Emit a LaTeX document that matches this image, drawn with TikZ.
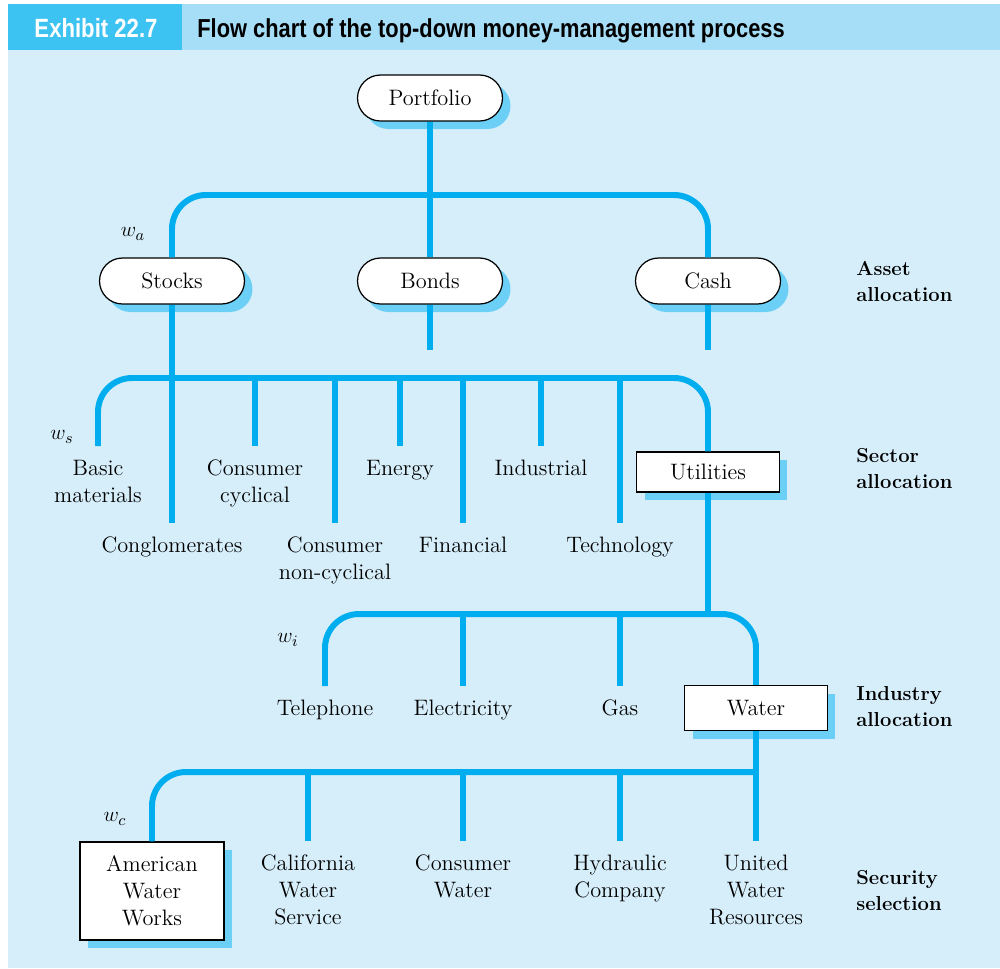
\documentclass[tikz,border=0pt]{standalone}
\usepackage{fontspec}
\usepackage{xcolor}
\usetikzlibrary{shadows,positioning}
\newfontfamily\headfont[FakeStretch=0.84]{Liberation Sans}
\newcommand\bodysize{\fontsize{12.7}{15.3}\selectfont}
\newcommand\sidesize{\fontsize{11.5}{14.8}\selectfont}
\definecolor{LBlue}{HTML}{00AEEF}
\definecolor{LShade}{HTML}{6CCFF6}
\definecolor{LBack}{HTML}{D6EEFA}
\definecolor{LHead}{HTML}{A6DEF7}
\definecolor{LTag}{HTML}{3DC3F1}

\begin{document}
\begin{tikzpicture}[
  x=0.02cm,y=-0.02cm,
  bar/.style={draw=LBlue,line width=3.4pt,rounded corners=0.68cm},
  shade/.style={drop shadow={shadow xshift=0.16cm,shadow yshift=-0.16cm,
    opacity=1,fill=LShade}},
  pill/.style={shade,draw=black,line width=0.7pt,fill=white,rounded corners=0.46cm,
    minimum width=2.9cm,minimum height=0.92cm,font=\bodysize},
  box/.style={shade,draw=black,line width=0.7pt,fill=white,
    minimum width=2.86cm,align=center,font=\bodysize},
  lbl/.style={align=center,anchor=north,inner sep=0pt,outer sep=6pt,font=\bodysize},
  wt/.style={font=\bodysize,inner sep=0pt},
  side/.style={align=left,anchor=west,inner sep=0pt,font=\sidesize\bfseries},
  head/.style={font=\headfont\fontsize{15}{18}\selectfont\bfseries,inner sep=0pt}
]
  \useasboundingbox (0,0) rectangle (1000,968);
  \fill[white] (0,0) rectangle (1000,968);
  \fill[LBack] (8,50) rectangle (1000,968);
  \fill[LHead] (182,4) rectangle (1000,50);
  \fill[LTag] (8,4) rectangle (182,50);
  \node[head,text=white,anchor=base] (tag) at (96,37) {Exhibit 22.7};
  \node[head,anchor=base west,font=\headfont\fontsize{14.8}{18}\selectfont\bfseries]
    (title) at (197,37) {Flow chart of the top-down money-management process};

  % asset allocation
  \node[pill] (portfolio) at (430,98) {Portfolio};
  \node[pill] (stocks) at (172,281) {Stocks};
  \node[pill] (bonds) at (430,281) {Bonds};
  \node[pill] (cash) at (708,281) {Cash};
  \node[wt] (wa) at (133,234) {$w_a$};

  % sector allocation
  \node[lbl] (basic) at (98,446) {\strut Basic\\materials};
  \node[lbl] (cyclical) at (255,446) {\strut Consumer\\cyclical};
  \node[lbl] (energy) at (400,446) {\strut Energy};
  \node[lbl] (industrial) at (541,446) {\strut Industrial};
  \node[box,minimum height=0.8cm] (utilities) at (708,472) {Utilities};
  \node[lbl] (congl) at (172,523) {\strut Conglomerates};
  \node[lbl] (noncyc) at (335,523) {\strut Consumer\\non-cyclical};
  \node[lbl] (financial) at (463,523) {\strut Financial};
  \node[lbl] (technology) at (620,523) {\strut Technology};
  \node[wt] (ws) at (62,437) {$w_s$};

  % industry allocation
  \node[lbl] (telephone) at (325,686) {\strut Telephone};
  \node[lbl] (electricity) at (463,686) {\strut Electricity};
  \node[lbl] (gas) at (620,686) {\strut Gas};
  \node[box,minimum height=0.9cm] (water) at (756,708) {Water};
  \node[wt] (wi) at (288,640) {$w_i$};

  % security selection
  \node[box,minimum width=2.88cm,minimum height=1.96cm] (aww) at (152,891) {American\\Water\\Works};
  \node[lbl] (calif) at (308,841) {\strut California\\Water\\Service};
  \node[lbl] (conswater) at (463,841) {\strut Consumer\\Water};
  \node[lbl] (hydraulic) at (620,841) {\strut Hydraulic\\Company};
  \node[lbl] (united) at (756,841) {\strut United\\Water\\Resources};
  \node[wt] (wc) at (115,819) {$w_c$};

  % levels
  \node[side] (asset) at (856,281) {Asset\\allocation};
  \node[side] (sector) at (856,468) {Sector\\allocation};
  \node[side] (industry) at (856,707) {Industry\\allocation};
  \node[side] (security) at (856,890) {Security\\selection};

  % tree
  \coordinate (jA) at (430,195);
  \coordinate (stub) at (0,350);
  \coordinate (jS) at (430,378);
  \coordinate (jI) at (540,614);
  \coordinate (jC) at (450,772);
  \draw[bar] (stocks.north) |- (jA) -| (cash.north);
  \draw[bar] (portfolio.south) -- (bonds.north);
  \draw[bar] (bonds.south) -- (bonds.south |- stub);
  \draw[bar] (cash.south) -- (cash.south |- stub);
  \draw[bar] (basic.north) |- (jS) -| (utilities.north);
  \draw[bar] (stocks.south) -- (congl.north);
  \foreach \n in {cyclical,energy,industrial,noncyc,financial,technology}
    {\draw[bar] (\n.north) -- (\n.north |- jS);}
  \draw[bar] (telephone.north) |- (jI) -| (water.north);
  \draw[bar] (utilities.south) -- (utilities.south |- jI);
  \foreach \n in {electricity,gas}
    {\draw[bar] (\n.north) -- (\n.north |- jI);}
  \draw[bar] (aww.north) |- (water.south |- jC);
  \draw[bar] (water.south) -- (united.north);
  \foreach \n in {calif,conswater,hydraulic}
    {\draw[bar] (\n.north) -- (\n.north |- jC);}
\end{tikzpicture}
\end{document}
